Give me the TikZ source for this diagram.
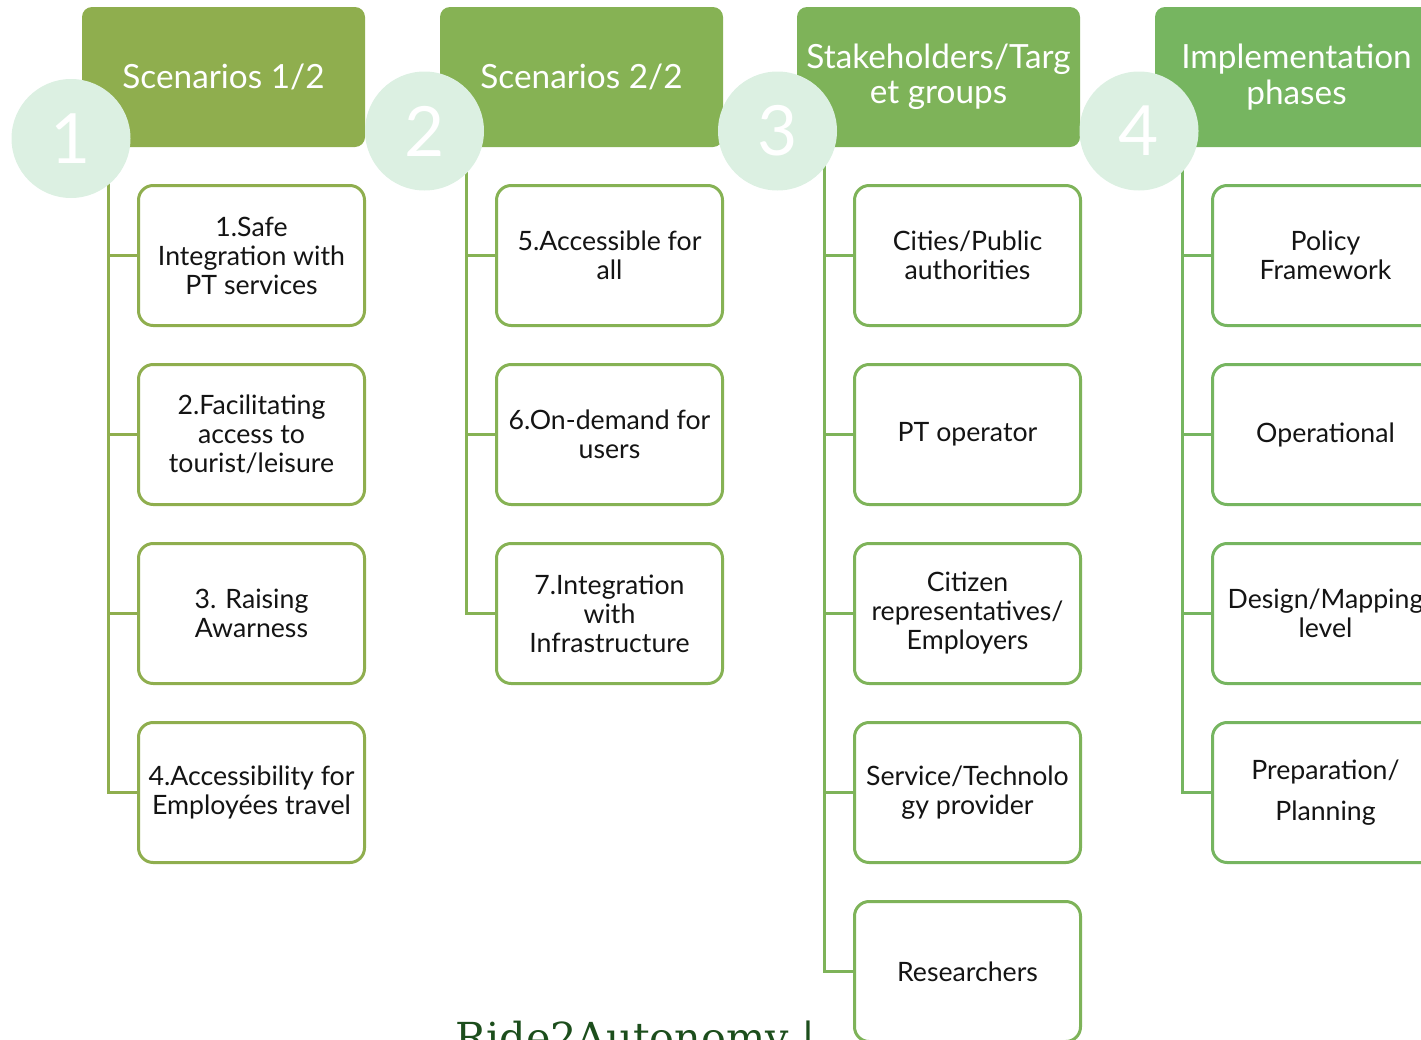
\documentclass[tikz,border=0pt]{standalone}
\usepackage{fontspec}
\setmainfont{Lato}
\newfontfamily\serifR{DejaVu Serif}
\definecolor{hA}{RGB}{143,174,78}
\definecolor{hB}{RGB}{134,178,84}
\definecolor{hC}{RGB}{126,179,89}
\definecolor{hD}{RGB}{118,181,96}
\definecolor{mint}{RGB}{220,240,226}
\definecolor{txt}{RGB}{20,20,20}
\definecolor{rideg}{RGB}{28,78,28}
\begin{document}
\begin{tikzpicture}[x=0.75pt,y=-0.75pt,
 hdr/.style={fill=#1, rounded corners=7.5pt, minimum width=212.25pt, minimum height=105pt, inner sep=0pt, text=white, font=\fontsize{25}{26.5}\selectfont, align=center},
 num/.style={circle, fill=mint, minimum size=89.25pt, inner sep=0pt, text=white, font=\fontsize{52}{52}\selectfont},
 itm/.style={draw=#1, line width=2.25pt, rounded corners=11pt, fill=white, minimum width=169.5pt, minimum height=105pt, inner sep=0pt, align=center, text=txt, font=\fontsize{20}{21.75}\selectfont},
 conn/.style={draw=#1, line width=2.25pt}
]
\path[use as bounding box] (0,0) rectangle (1421,1039);
\clip (0,0) rectangle (1421,1039);

% headers
\node[hdr=hA] (h1) at (223.5,77) {Scenarios 1/2};
\node[hdr=hB] (h2) at (581.5,77) {Scenarios 2/2};
\node[hdr=hC] (h3) at (938.5,77) {Stakeholders/Targ\\et groups};
\node[hdr=hD] (h4) at (1296.5,77) {Implementation\\phases};

% connector tops
\coordinate (t1) at (108,147);
\coordinate (t2) at (466,147);
\coordinate (t3) at (824,147);
\coordinate (t4) at (1182,147);

% items column 1
\node[itm=hA] (b11) at (251.5,255.5) {1.Safe\\Integration with\\PT services};
\node[itm=hA] (b12) at (251.5,434.5) {2.Facilitating\\access to\\tourist/leisure};
\node[itm=hA] (b13) at (251.5,613.5) {3. Raising\\Awarness};
\node[itm=hA] (b14) at (251.5,792.5) {4.Accessibility for\\Employées travel};
% column 2
\node[itm=hB] (b21) at (609.5,255.5) {5.Accessible for\\all};
\node[itm=hB] (b22) at (609.5,434.5) {6.On-demand for\\users};
\node[itm=hB] (b23) at (609.5,613.5) {7.Integration\\with\\Infrastructure};
% column 3
\node[itm=hC] (b31) at (967.5,255.5) {Cities/Public\\authorities};
\node[itm=hC] (b32) at (967.5,434.5) {PT operator};
\node[itm=hC] (b33) at (967.5,613.5) {Citizen\\representatives/\\Employers};
\node[itm=hC] (b34) at (967.5,792.5) {Service/Technolo\\gy provider};
\node[itm=hC] (b35) at (967.5,971.5) {Researchers};
% column 4
\node[itm=hD] (b41) at (1325.5,255.5) {Policy\\Framework};
\node[itm=hD] (b42) at (1325.5,434.5) {Operational};
\node[itm=hD] (b43) at (1325.5,613.5) {Design/Mapping\\level};
\node[itm=hD] (b44) at (1325.5,792.5) {Preparation/\\[9pt]Planning};

% connectors
\draw[conn=hA] (t1) |- (b14.west);
\foreach \k in {1,2,3} \draw[conn=hA] (t1 |- b1\k.west) -- (b1\k.west);
\draw[conn=hB] (t2) |- (b23.west);
\foreach \k in {1,2} \draw[conn=hB] (t2 |- b2\k.west) -- (b2\k.west);
\draw[conn=hC] (t3) |- (b35.west);
\foreach \k in {1,2,3,4} \draw[conn=hC] (t3 |- b3\k.west) -- (b3\k.west);
\draw[conn=hD] (t4) |- (b44.west);
\foreach \k in {1,2,3} \draw[conn=hD] (t4 |- b4\k.west) -- (b4\k.west);

% number circles
\node[num] (n1) at (71,138.5) {1};
\node[num] (n2) at (424.5,131) {2};
\node[num] (n3) at (777.5,131) {3};
\node[num] (n4) at (1139,131) {4};

% footer text
\node[anchor=base west, inner sep=0pt, text=rideg, font=\serifR\fontsize{31}{31}\selectfont] (ride) at (455,1052) {Ride2Autonomy |};
\end{tikzpicture}
\end{document}
